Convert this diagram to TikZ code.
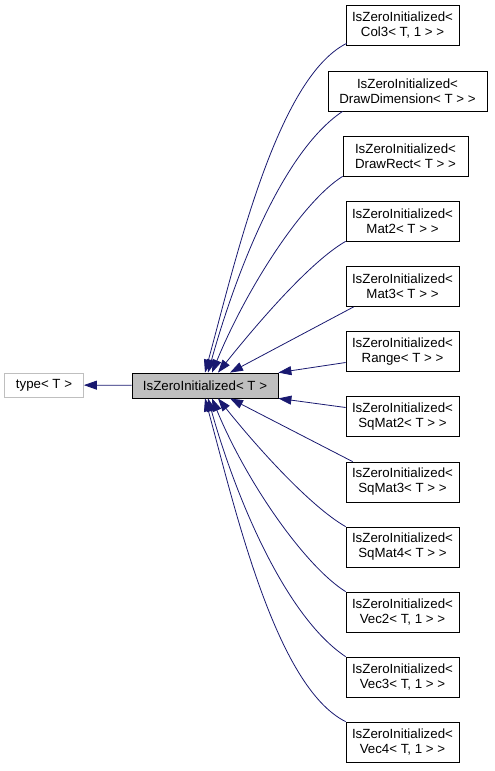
\documentclass[tikz,border=0pt]{standalone}
\usepackage{fontspec}
\setmainfont{Liberation Sans}
\usetikzlibrary{arrows.meta}
\definecolor{edgeblue}{RGB}{25,25,112}
\definecolor{boxgray}{RGB}{191,191,191}
\tikzset{
  cls/.style={draw, rectangle, line width=0.8pt, align=center, inner xsep=2pt, inner ysep=2pt,
    minimum width=113pt, minimum height=40pt},
  inh/.style={draw=edgeblue, line width=0.8pt, -{Triangle[length=13pt,width=9pt]}},
}

\begin{document}
\begin{tikzpicture}[x=1pt,y=1pt,font=\fontsize{13.3}{15}\selectfont]
    \useasboundingbox (0,0) rectangle (495,-771);
    % classes
    \node[draw=boxgray, line width=0.8pt, minimum width=79pt, minimum height=24pt, inner sep=0pt] (type) at (44,-385) {type< T >};
    \node[draw, fill=boxgray, line width=0.8pt, minimum width=146pt, minimum height=25pt, inner sep=0pt] (base) at (205,-385.5) {IsZeroInitialized< T >};
    \node[cls] (col3) at (402.5,-25) {IsZeroInitialized<\\ Col3< T, 1 > >};
    \node[cls, minimum width=159pt] (drawdim) at (407.5,-91) {IsZeroInitialized<\\ DrawDimension< T > >};
    \node[cls, minimum width=125pt] (drawrect) at (405.5,-156) {IsZeroInitialized<\\ DrawRect< T > >};
    \node[cls] (mat2) at (402.5,-221) {IsZeroInitialized<\\ Mat2< T > >};
    \node[cls] (mat3) at (402.5,-286.5) {IsZeroInitialized<\\ Mat3< T > >};
    \node[cls] (range) at (402.5,-351.5) {IsZeroInitialized<\\ Range< T > >};
    \node[cls] (sqmat2) at (402.5,-416.5) {IsZeroInitialized<\\ SqMat2< T > >};
    \node[cls] (sqmat3) at (402.5,-482) {IsZeroInitialized<\\ SqMat3< T > >};
    \node[cls] (sqmat4) at (402.5,-547) {IsZeroInitialized<\\ SqMat4< T > >};
    \node[cls] (vec2) at (402.5,-612) {IsZeroInitialized<\\ Vec2< T, 1 > >};
    \node[cls] (vec3) at (402.5,-677) {IsZeroInitialized<\\ Vec3< T, 1 > >};
    \node[cls] (vec4) at (402.5,-742) {IsZeroInitialized<\\ Vec4< T, 1 > >};
    % inheritance
    \draw[inh] (base) -- (type);
    \draw[inh] ([shift={(1,2)}]col3.south west) .. controls +(-70,-35) and +(30,110) .. (base.north);
    \draw[inh] ([xshift=15]drawdim.south west) .. controls +(-60,-40) and +(28,100) .. ([xshift=3]base.north);
    \draw[inh] (drawrect.south west) .. controls +(-40,-25) and +(35,85) .. ([xshift=7]base.north);
    \draw[inh] (mat2.south west) .. controls +(-35,-20) and +(40,50) .. ([xshift=13]base.north);
    \draw[inh] ([xshift=8]mat3.south west) -- ([xshift=25]base.north);
    \draw[inh] ([yshift=-11]range.west) -- (base.north east);
    \draw[inh] ([yshift=9]sqmat2.west) -- (base.south east);
    \draw[inh] ([xshift=7]sqmat3.north west) -- ([xshift=25]base.south);
    \draw[inh] (sqmat4.north west) .. controls +(-35,20) and +(40,-50) .. ([xshift=13]base.south);
    \draw[inh] (vec2.north west) .. controls +(-40,25) and +(35,-85) .. ([xshift=7]base.south);
    \draw[inh] (vec3.north west) .. controls +(-60,40) and +(28,-100) .. ([xshift=3]base.south);
    \draw[inh] (vec4.north west) .. controls +(-70,35) and +(30,-110) .. (base.south);
\end{tikzpicture}
\end{document}
